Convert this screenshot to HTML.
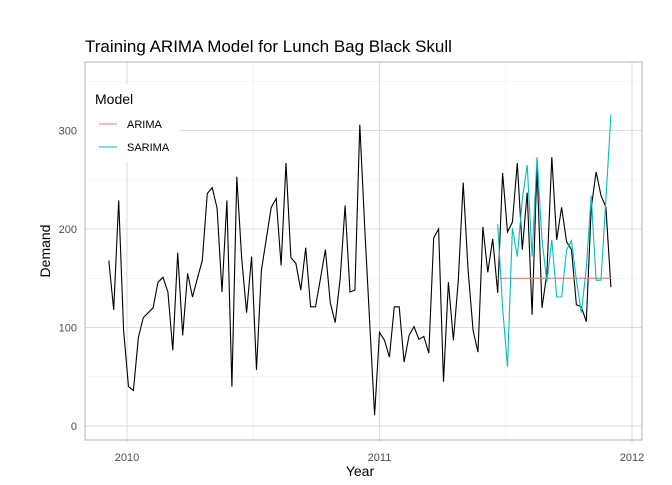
<!DOCTYPE html>
<html><head><meta charset="utf-8"><style>
body{margin:0;background:#fff;font-family:"Liberation Sans",sans-serif}
</style></head><body>
<svg id="c" width="672" height="480" xmlns="http://www.w3.org/2000/svg"></svg>
<script>
const actual=[168,118,229,97,40,36,90,110,115,120,146,151,136,77,176,92,155,131,150,168,236,242,221,136,229,40,253,170,115,172,57,158,190,222,231,163,267,171,165,138,181,121,121,150,179,125,105,150,224,136,138,306,200,105,11,95,87,70,121,121,65,92,101,88,91,74,191,200,45,146,87,148,247,158,97,75,202,156,190,135,257,197,207,267,179,237,113,263,120,155,273,189,222,187,179,123,121,106,221,258,234,222,141];
const fcStart=79;
const arima=[150,150,150,150,150,150,150,150,150,150,150,150,150,150,150,150,150,150,150,150,150,150,150,150];
const sarima=[205,120,60,201,172,230,265,172,273,189,146,189,131,131,179,188,148,115,160,234,148,148,230,316];
const yTicks=[0,100,200,300];
const xTicks=[2010,2011,2012];
const startYear=2009.928, weekYr=1/51.3;
const svg=document.getElementById('c');const NS='http://www.w3.org/2000/svg';
const L=85,R=642,T=62,B=440;
const xs=t=>127+(t-2010)*252.5;
const ys=v=>426-v*0.985;
const xi=i=>xs(startYear+i*weekYr);
function el(tag,at,txt){const e=document.createElementNS(NS,tag);for(const k in at)e.setAttribute(k,at[k]);if(txt!==undefined)e.textContent=txt;svg.appendChild(e);return e;}
for(let v=50;v<=350;v+=100){const g=el('line',{x1:L,x2:R,y1:ys(v),y2:ys(v),stroke:'#eeeeee','stroke-width':0.6});

}
[2009.5,2010.5,2011.5].forEach(t=>{if(xs(t)>L){const g=el('line',{x1:xs(t),x2:xs(t),y1:T,y2:B,stroke:'#eeeeee','stroke-width':0.6});

}});
yTicks.forEach(v=>{const g=el('line',{x1:L,x2:R,y1:ys(v),y2:ys(v),stroke:'#dedede','stroke-width':1.1});


const t=el('text',{x:77,y:ys(v)+4,'text-anchor':'end','font-size':11,fill:'#4d4d4d'},v);

});
xTicks.forEach(v=>{const g=el('line',{x1:xs(v),x2:xs(v),y1:T,y2:B+3,stroke:'#dedede','stroke-width':1.1});


const t=el('text',{x:xs(v),y:461,'text-anchor':'middle','font-size':11,fill:'#4d4d4d'},v);

});
const bd=el('rect',{x:L,y:T,width:R-L,height:B-T,fill:'none',stroke:'#b3b3b3','stroke-width':1});


function line(arr,off,color,name){const p=arr.map((v,i)=>(i?'L':'M')+xi(i+off).toFixed(1)+','+ys(v).toFixed(1)).join('');
const e=el('path',{d:p,fill:'none',stroke:color,'stroke-width':1.1});

}
line(actual,0,'#000','actual-demand-line');
line(arima,fcStart,'#f8766d','arima-line');
line(sarima,fcStart,'#00bfc4','sarima-line');
const ti=el('text',{x:85,y:52,'font-size':17,fill:'#000'},'Training ARIMA Model for Lunch Bag Black Skull');


const xt=el('text',{x:360,y:476,'text-anchor':'middle','font-size':14,fill:'#000'},'Year');


const yt=el('text',{x:0,y:0,transform:'translate(50,251) rotate(-90)','text-anchor':'middle','font-size':14,fill:'#000'},'Demand');


const lb=el('rect',{x:86,y:84,width:94,height:78,fill:'#fff'});


const lt=el('text',{x:95,y:104,'font-size':14,fill:'#000'},'Model');


[['ARIMA','#f8766d',124],['SARIMA','#00bfc4',147]].forEach(([n,c,y])=>{
const k=el('line',{x1:99,x2:117,y1:y,y2:y,stroke:c,'stroke-width':1.1});


const t=el('text',{x:127,y:y+4,'font-size':11,fill:'#000'},n);

});
</script>
</body></html>
